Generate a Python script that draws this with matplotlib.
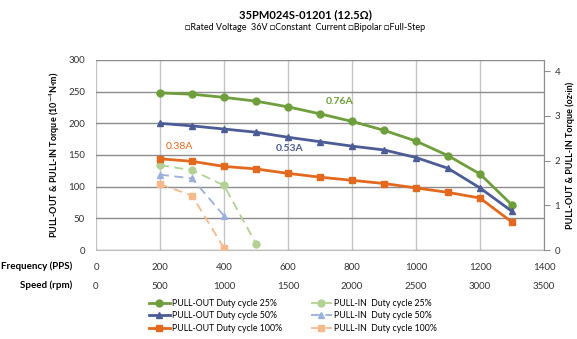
import matplotlib.pyplot as plt

plt.rcParams['font.family'] = ['Lato', 'DejaVu Sans']

# data (frequency in PPS, torque in 1e-4 N*m)
freq_out = [200, 300, 400, 500, 600, 700, 800, 900, 1000, 1100, 1200, 1300]
out_25 = [248, 246, 241, 235, 226, 215, 203, 189, 172, 149, 120, 71]
out_50 = [200, 196, 191, 186, 178, 171, 164, 158, 146, 129, 98, 61]
out_100 = [144, 140, 132, 128, 121, 115, 110, 105, 98, 91, 82, 44]

freq_in_25 = [200, 300, 400, 500]
in_25 = [134, 126, 102, 10]
freq_in_50 = [200, 300, 400]
in_50 = [119, 113, 54]
freq_in_100 = [200, 300, 400]
in_100 = [104, 86, 3]

freq_ticks = [0, 200, 400, 600, 800, 1000, 1200, 1400]
speed_ticks = [0, 500, 1000, 1500, 2000, 2500, 3000, 3500]

c_green, c_blue, c_orange = '#6f9e3c', '#4b5c96', '#e2691e'
c_lgreen, c_lblue, c_lorange = '#b3d194', '#9bb0dc', '#f5b98c'

fig = plt.figure(figsize=(5.77, 3.39), dpi=100)
ax = fig.add_axes([96 / 577, 1 - 250 / 339, 448 / 577, 190 / 339])

ax.plot(freq_out, out_25, color=c_green, lw=2, marker='o', ms=5, label='PULL-OUT Duty cycle 25%', zorder=5)
ax.plot(freq_out, out_50, color=c_blue, lw=2, marker='^', ms=5, label='PULL-OUT Duty cycle 50%', zorder=5)
ax.plot(freq_out, out_100, color=c_orange, lw=2, marker='s', ms=5, label='PULL-OUT Duty cycle 100%', zorder=5)
ax.plot(freq_in_25, in_25, color=c_lgreen, lw=1.3, ls=(0, (5, 3)), marker='o', ms=5, label='PULL-IN  Duty cycle 25%', zorder=4)
ax.plot(freq_in_50, in_50, color=c_lblue, lw=1.3, ls=(0, (5, 3)), marker='^', ms=5, label='PULL-IN  Duty cycle 50%', zorder=4)
ax.plot(freq_in_100, in_100, color=c_lorange, lw=1.3, ls=(0, (5, 3)), marker='s', ms=5, label='PULL-IN  Duty cycle 100%', zorder=4)

ax.text(762, 235, '0.76A', color=c_green, fontsize=7.5, fontweight='bold', ha='center', va='center')
ax.text(606, 161, '0.53A', color=c_blue, fontsize=7.5, fontweight='bold', ha='center', va='center')
ax.text(262, 164, '0.38A', color=c_orange, fontsize=7.5, ha='center', va='center')

ax.set_xlim(0, 1400)
ax.set_ylim(0, 300)
ax.set_xticks(freq_ticks)
ax.set_yticks(range(0, 301, 50))
ax.tick_params(axis='x', length=0, labelsize=7, pad=9, colors='#333333')
ax.tick_params(axis='y', length=0, labelsize=7, pad=8, colors='#333333')
ax.grid(axis='y', color='#8c8c8c', lw=1)
ax.grid(axis='x', color='#c4c4c4', lw=1)
ax.set_axisbelow(True)
for s in ['top', 'right', 'left']:
    ax.spines[s].set_visible(False)
ax.spines['bottom'].set_color('#bdbdbd')

# speed row under the frequency row
sec = ax.secondary_xaxis(-0.142, functions=(lambda f: f * 2.5, lambda s: s / 2.5))
sec.set_xticks(speed_ticks)
sec.tick_params(length=0, labelsize=7, colors='#333333')
sec.spines['bottom'].set_visible(False)

# right axis in oz*in
ax2 = ax.twinx()
ax2.set_ylim(0, 300 / 70.62)
ax2.set_yticks([0, 1, 2, 3, 4])
ax2.tick_params(axis='y', length=4, color='#8c8c8c', labelsize=7, colors='#333333')
for s in ['top', 'left', 'bottom']:
    ax2.spines[s].set_visible(False)
ax2.spines['right'].set_color('#8c8c8c')

fig.text(305 / 577, 1 - 15 / 339, '35PM024S-01201 (12.5Ω)', fontsize=8, fontweight='bold', ha='center', va='center')
fig.text(305 / 577, 1 - 28 / 339, '□Rated Voltage  36V □Constant  Current □Bipolar □Full-Step',
         fontsize=6.5, ha='center', va='center')
fig.text(55 / 577, 1 - 155 / 339, 'PULL-OUT & PULL-IN Torque (10$^{-4}$N·m)', fontsize=6.5,
         fontweight='bold', rotation=90, ha='center', va='center')
fig.text(570 / 577, 1 - 155 / 339, 'PULL-OUT & PULL-IN Torque (oz·in)', fontsize=6.5,
         fontweight='bold', rotation=90, ha='center', va='center')
fig.text(72 / 577, 1 - 266 / 339, 'Frequency (PPS)', fontsize=7, fontweight='bold', ha='right', va='center')
fig.text(72 / 577, 1 - 285 / 339, 'Speed (rpm)', fontsize=7, fontweight='bold', ha='right', va='center')

handles, labels = ax.get_legend_handles_labels()
fig.legend(handles, labels, ncol=2, loc='center', bbox_to_anchor=(293 / 577, 1 - 316 / 339),
           frameon=False, fontsize=6.3, handlelength=2.4, columnspacing=3.2, labelspacing=0.35,
           handletextpad=0.3, borderpad=0)

fig.savefig('out.png', dpi=100)
